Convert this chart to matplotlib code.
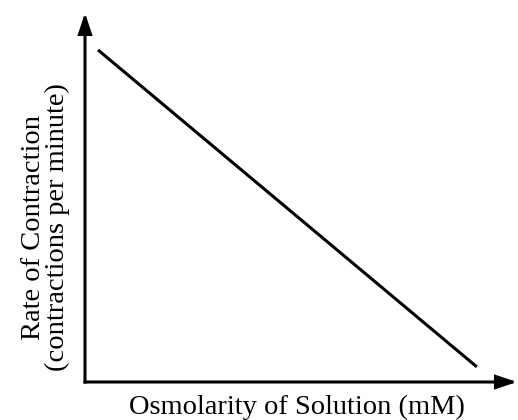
import matplotlib
matplotlib.use("Agg")
import matplotlib.pyplot as plt
from matplotlib.patches import FancyArrowPatch

# Data (axis-fraction units; the chart has no numeric scale)
osmolarity = [0.030, 0.907]
rate = [0.900, 0.041]
x_label = "Osmolarity of Solution (mM)"
y_label = "Rate of Contraction\n(contractions per minute)"

plt.rcParams['font.family'] = ['Liberation Serif', 'DejaVu Serif']

fig = plt.figure(figsize=(5.18, 4.2), dpi=100)
ax = fig.add_axes([85/518, 38/420, 432/518, 369/420])
ax.set_xlim(0, 1)
ax.set_ylim(0, 1)
for s in ax.spines.values():
    s.set_visible(False)
ax.set_xticks([])
ax.set_yticks([])

ax.plot(osmolarity, rate, color='black', lw=2.2, solid_capstyle='butt')

for end in [(1, 0), (0, 1)]:
    arr = FancyArrowPatch((0, 0), end, transform=ax.transAxes,
                          arrowstyle='-|>,head_length=1.2,head_width=0.4',
                          mutation_scale=10, lw=2.2, color='black',
                          shrinkA=0, shrinkB=0, clip_on=False, joinstyle='miter',
                          capstyle='projecting')
    ax.add_patch(arr)

ax.set_xlabel(x_label, fontsize=20.5)
ax.xaxis.set_label_coords(0.49, -0.036)
ax.set_ylabel(y_label, fontsize=20.5, linespacing=0.95)
ax.yaxis.set_label_coords(-0.035, 0.42)

fig.savefig("out.png", dpi=100)
